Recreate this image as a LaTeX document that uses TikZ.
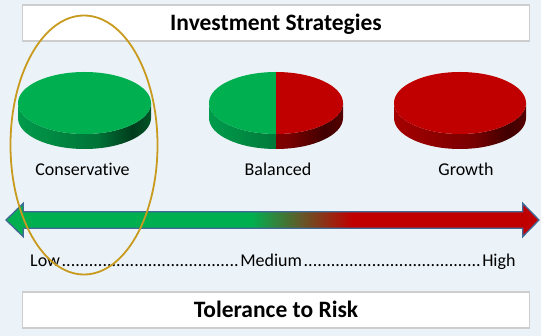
\documentclass[tikz,border=0pt]{standalone}
\usepackage{fontspec}
\setmainfont{Carlito}[Ligatures=NoCommon]

\definecolor{bgblue}{RGB}{236,243,248}
\definecolor{riskgreen}{RGB}{0,176,80}
\definecolor{riskred}{RGB}{192,0,0}
\definecolor{riskbrown}{RGB}{100,88,40}
\definecolor{arrowblue}{RGB}{65,105,150}
\definecolor{ringgold}{RGB}{200,155,30}
\definecolor{boxgray}{RGB}{205,205,205}
\definecolor{gsa}{RGB}{0,155,75}
\definecolor{gsb}{RGB}{0,115,55}
\definecolor{gsc}{RGB}{0,60,28}
\definecolor{gsd}{RGB}{0,85,40}
\definecolor{rsa}{RGB}{165,0,0}
\definecolor{rsb}{RGB}{120,0,0}
\definecolor{rsc}{RGB}{65,0,0}
\definecolor{rsd}{RGB}{85,0,0}

\pgfdeclarehorizontalshading{riskbar}{100bp}{color(0bp)=(riskgreen); color(48bp)=(riskgreen); color(52.7bp)=(riskbrown); color(57.5bp)=(riskred); color(100bp)=(riskred)}
\pgfdeclarehorizontalshading{greenside}{100bp}{color(0bp)=(gsa); color(25bp)=(gsa); color(55bp)=(gsb); color(68bp)=(gsc); color(75bp)=(gsd); color(100bp)=(gsd)}
\pgfdeclarehorizontalshading{redside}{100bp}{color(0bp)=(rsa); color(25bp)=(rsa); color(55bp)=(rsb); color(68bp)=(rsc); color(75bp)=(rsd); color(100bp)=(rsd)}

\begin{document}
\begin{tikzpicture}[x=1pt,y=-1pt,
  titlebox/.style={draw=boxgray, line width=1.2pt, fill=white, minimum width=507pt, minimum height=36pt, inner sep=0pt, text height=14.7pt, text depth=0pt, font=\fontsize{23.5}{28}\selectfont\bfseries},
  pielabel/.style={anchor=base, inner sep=0pt, font=\fontsize{18}{22}\selectfont},
  goldring/.style={draw=ringgold, line width=1.8pt}]
\fill[bgblue] (0,0) rectangle (541,336);
\useasboundingbox (0,0) rectangle (541,336);

% headings
\node[titlebox] (title) at (276,23) {Investment Strategies};
\node[titlebox] (tolerance) at (276,310) {Tolerance to Risk};

% conservative
\shade[shading=greenside] (18,103) -- (18,118) arc[start angle=180, end angle=0, x radius=66.5, y radius=31] -- (151,103) arc[start angle=0, end angle=180, x radius=66.5, y radius=31] -- cycle;
\fill[riskgreen] (84.5,103) ellipse[x radius=66.5, y radius=31];

% balanced
\begin{scope}
\clip (200,60) rectangle (276,160);
\shade[shading=greenside] (209,103) -- (209,118) arc[start angle=180, end angle=0, x radius=67, y radius=31] -- (343,103) arc[start angle=0, end angle=180, x radius=67, y radius=31] -- cycle;
\end{scope}
\begin{scope}
\clip (276,60) rectangle (350,160);
\shade[shading=redside] (209,103) -- (209,118) arc[start angle=180, end angle=0, x radius=67, y radius=31] -- (343,103) arc[start angle=0, end angle=180, x radius=67, y radius=31] -- cycle;
\end{scope}
\fill[riskgreen] (276,72) arc[start angle=-90, end angle=-270, x radius=67, y radius=31] -- cycle;
\fill[riskred] (276,72) arc[start angle=-90, end angle=90, x radius=67, y radius=31] -- cycle;

% growth
\shade[shading=redside] (394,103) -- (394,118) arc[start angle=180, end angle=0, x radius=66, y radius=31] -- (526,103) arc[start angle=0, end angle=180, x radius=66, y radius=31] -- cycle;
\fill[riskred] (460,103) ellipse[x radius=66, y radius=31];

\node[pielabel] (conservative) at (82.5,176) {Conservative};
\node[pielabel] (balanced) at (278,176) {Balanced};
\node[pielabel] (growth) at (466,176) {Growth};

% risk arrow
\shadedraw[shading=riskbar, draw=arrowblue, line width=1.3pt, line join=miter] (6,220) -- (23.3,203.3) -- (23.3,211.7) -- (522.7,211.7) -- (522.7,203.3) -- (539,220) -- (522.7,236.7) -- (522.7,228.3) -- (23.3,228.3) -- (23.3,236.7) -- cycle;

\node[anchor=base west, inner sep=0pt, font=\fontsize{18}{22}\selectfont] (scale) at (30,266.7)
  {\hbox to 486pt{Low\cleaders\hbox{.}\hfill Medium\cleaders\hbox{.}\hfill High}};

% highlight
\draw[goldring] (84,145) ellipse[x radius=73.5, y radius=129.5];
\end{tikzpicture}
\end{document}
